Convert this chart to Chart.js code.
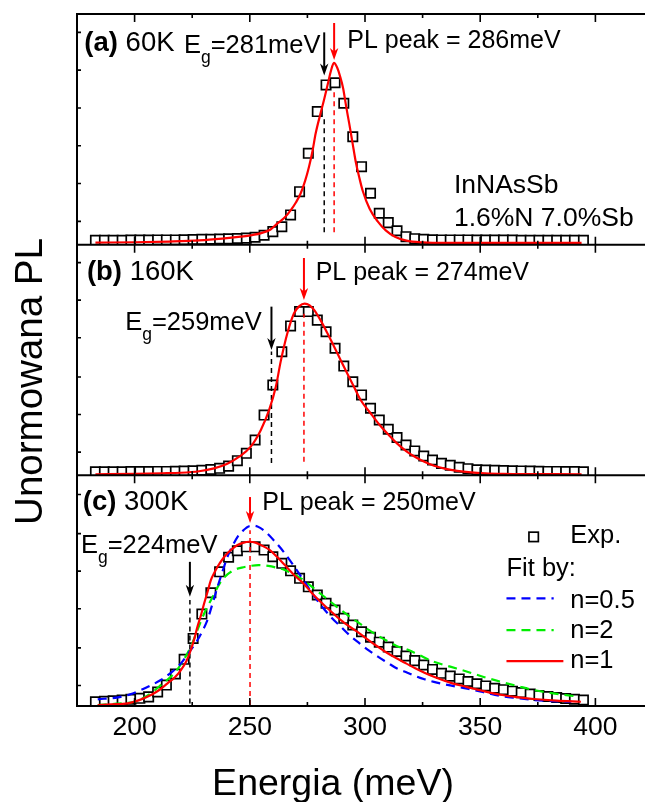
<!DOCTYPE html>
<html>
<head>
<meta charset="utf-8">
<script src="https://cdn.jsdelivr.net/npm/chart.js@4.4.1/dist/chart.umd.min.js"></script>
<style>
  html, body { margin: 0; padding: 0; background: #fff; overflow: hidden; }
  #wrap { width: 645px; height: 802px; overflow: hidden; }
</style>
</head>
<body>
<div id="wrap"><canvas id="chart" width="670" height="802"></canvas></div>
<script>
// Energy grid of the measured points (meV), same for all three temperatures
const energy = [
  183.0, 186.9, 190.7, 194.6, 198.4, 202.3, 206.1, 210.0, 213.8, 217.7,
  221.5, 225.4, 229.2, 233.1, 236.9, 240.8, 244.6, 248.5, 252.3, 256.2,
  260.0, 263.9, 267.7, 271.6, 275.4, 279.3, 283.1, 287.0, 290.8, 294.7,
  298.5, 302.4, 306.2, 310.1, 313.9, 317.8, 321.6, 325.5, 329.3, 333.2,
  337.0, 340.9, 344.7, 348.6, 352.4, 356.3, 360.1, 364.0, 367.8, 371.7,
  375.5, 379.4, 383.2, 387.1, 390.9, 394.8
];

// Normalised PL (squares)
const exp60K = [
  0.015, 0.015, 0.015, 0.015, 0.016, 0.016, 0.016, 0.017, 0.017, 0.017,
  0.018, 0.019, 0.020, 0.021, 0.022, 0.023, 0.025, 0.027, 0.032, 0.043,
  0.063, 0.090, 0.156, 0.285, 0.498, 0.730, 0.878, 0.890, 0.776, 0.590,
  0.424, 0.276, 0.165, 0.113, 0.068, 0.035, 0.024, 0.020, 0.018, 0.017,
  0.017, 0.017, 0.017, 0.016, 0.016, 0.016, 0.016, 0.016, 0.015, 0.015,
  0.015, 0.015, 0.015, 0.015, 0.015, 0.015
];
const exp160K = [
  0.015, 0.015, 0.015, 0.015, 0.016, 0.016, 0.016, 0.017, 0.017, 0.018,
  0.019, 0.021, 0.024, 0.028, 0.035, 0.048, 0.080, 0.123, 0.201, 0.347,
  0.523, 0.718, 0.869, 0.953, 0.953, 0.903, 0.835, 0.738, 0.634, 0.542,
  0.465, 0.387, 0.318, 0.264, 0.215, 0.172, 0.137, 0.107, 0.084, 0.064,
  0.053, 0.041, 0.033, 0.027, 0.025, 0.023, 0.022, 0.021, 0.020, 0.019,
  0.018, 0.017, 0.017, 0.016, 0.016, 0.015
];
const exp300K = [
  0.020, 0.023, 0.026, 0.030, 0.035, 0.041, 0.050, 0.080, 0.122, 0.190,
  0.280, 0.408, 0.557, 0.688, 0.816, 0.905, 0.945, 0.969, 0.969, 0.949,
  0.908, 0.868, 0.822, 0.776, 0.724, 0.674, 0.623, 0.582, 0.531, 0.490,
  0.449, 0.415, 0.385, 0.355, 0.328, 0.300, 0.272, 0.245, 0.218, 0.194,
  0.177, 0.160, 0.144, 0.130, 0.117, 0.103, 0.094, 0.085, 0.076, 0.067,
  0.058, 0.052, 0.046, 0.040, 0.035, 0.031
];

// Fitted curves, [E, PL]
const fit60K = [
  [183, 0.002], [200, 0.004], [215, 0.008], [228, 0.014], [238, 0.024], [246, 0.035],
  [251, 0.044], [255, 0.055], [259, 0.075], [262, 0.109], [265, 0.14], [267.8, 0.183],
  [270, 0.225], [272.1, 0.276], [274, 0.345], [275.7, 0.424], [277.2, 0.51], [278.6, 0.609],
  [280.5, 0.71], [282.2, 0.794], [283.8, 0.88], [285.2, 0.955], [286.5, 1.0], [287.9, 0.975],
  [289.2, 0.925], [290.5, 0.86], [291.8, 0.76], [293.2, 0.66], [294.6, 0.555], [296, 0.45],
  [297.5, 0.365], [299, 0.29], [302, 0.19], [305.5, 0.12], [309, 0.07], [313, 0.035],
  [318, 0.013], [325, 0.003], [335, 0.0], [394, 0.0]
];
const fit160K = [
  [183, 0.0], [200, 0.003], [212, 0.006], [220, 0.009], [228, 0.018], [234.5, 0.035],
  [240, 0.06], [245.4, 0.103], [250.4, 0.162], [254.8, 0.26], [258.4, 0.377], [261.3, 0.513],
  [263.4, 0.66], [266.3, 0.826], [269.2, 0.943], [271.5, 0.985], [273.8, 1.0], [276, 0.99],
  [277.9, 0.963], [280.8, 0.9], [283.7, 0.826], [286.5, 0.75], [289.4, 0.67], [292.3, 0.59],
  [295.2, 0.513], [298.1, 0.435], [302, 0.365], [306, 0.295], [310, 0.235], [314, 0.18],
  [318, 0.135], [322, 0.1], [326, 0.072], [330, 0.05], [335, 0.032], [340, 0.02],
  [346, 0.011], [352, 0.006], [360, 0.003], [394, 0.0]
];
const fit300Kn1 = [
  [184, 0.0], [190, 0.004], [197, 0.01], [202, 0.03], [207.1, 0.061], [211, 0.095],
  [214.3, 0.133], [217.5, 0.17], [220.1, 0.214], [222.5, 0.27], [224.4, 0.337], [226, 0.41],
  [227.3, 0.48], [228.8, 0.55], [230.2, 0.623], [231.7, 0.695], [233.1, 0.765], [234.6, 0.81],
  [236, 0.847], [238, 0.89], [240.3, 0.929], [242.5, 0.958], [244.7, 0.98], [247, 0.993],
  [249.7, 1.0], [252.5, 0.995], [255.5, 0.975], [258.7, 0.949], [262, 0.905], [265.2, 0.857],
  [269, 0.8], [273.3, 0.745], [277, 0.685], [281.4, 0.623], [285.5, 0.57], [289.5, 0.52],
  [293.5, 0.478], [297.6, 0.439], [301.5, 0.398], [305.6, 0.357], [309.5, 0.32], [313.7, 0.286],
  [317.8, 0.255], [321.8, 0.225], [325.8, 0.198], [329.9, 0.173], [337, 0.137], [344.4, 0.11],
  [351.5, 0.085], [358.8, 0.063], [366, 0.048], [373.2, 0.037], [383, 0.027], [393.7, 0.02]
];
const fit300Kn05 = [
  [184, 0.035], [192.7, 0.047], [198, 0.065], [202.8, 0.092], [207, 0.12], [211.4, 0.153],
  [216, 0.2], [220.1, 0.255], [224, 0.33], [227.3, 0.398], [229.5, 0.455], [231.6, 0.52],
  [233.8, 0.62], [236, 0.724], [238.2, 0.82], [240.3, 0.908], [242.5, 0.975], [244.7, 1.03],
  [247.2, 1.07], [249.7, 1.095], [252, 1.098], [254.5, 1.085], [256.8, 1.061], [261, 1.0],
  [265.2, 0.929], [269.2, 0.85], [273.3, 0.765], [277.3, 0.68], [281.4, 0.602], [285.5, 0.535],
  [289.5, 0.48], [293.5, 0.425], [297.6, 0.378], [301.6, 0.335], [305.6, 0.296], [309.7, 0.26],
  [313.7, 0.225], [318.4, 0.198], [321.8, 0.178], [325.8, 0.158], [329.9, 0.142], [337, 0.12],
  [344.4, 0.1], [351.5, 0.078], [358.8, 0.055], [366, 0.042], [373.2, 0.031], [381, 0.024],
  [389.6, 0.02]
];
const fit300Kn2 = [
  [184, 0.0], [192, 0.008], [199.8, 0.02], [204, 0.045], [207.1, 0.072], [212, 0.13],
  [217.2, 0.194], [221, 0.27], [224.4, 0.357], [227.3, 0.46], [230.2, 0.561], [233.8, 0.66],
  [237.4, 0.755], [240.3, 0.8], [243.2, 0.827], [246.5, 0.842], [249.7, 0.851], [253.8, 0.857],
  [258, 0.852], [261.5, 0.842], [265.2, 0.827], [269.2, 0.8], [273.3, 0.765], [277.3, 0.72],
  [281.4, 0.674], [285.5, 0.628], [289.5, 0.582], [293.5, 0.54], [297.6, 0.5], [301.6, 0.46],
  [305.6, 0.425], [309.7, 0.392], [313.7, 0.362], [318.4, 0.34], [323, 0.31], [329.9, 0.265],
  [337, 0.235], [344.4, 0.204], [351.5, 0.172], [358.8, 0.143], [366, 0.117], [373.2, 0.092],
  [381, 0.073], [390.6, 0.055]
];

// Axis ticks
const xMajorTicks = [200, 250, 300, 350, 400];
const xMinorTicks = [225, 275, 325, 375];
const yTicksA = [0.12, 0.33, 0.54, 0.75, 0.96, 1.17];
const yTicksB = [0.13, 0.35, 0.57, 0.80, 1.02, 1.24];
const yTicksC = [0.12, 0.35, 0.59, 0.82, 1.05, 1.29];

// Panels (top to bottom)
const panelIds = ['yA', 'yB', 'yC'];
const panelTags = ['(a)', '(b)', '(c)'];
const panelTemps = ['60K', '160K', '300K'];
const panelRanges = [[-0.0094, 1.272], [-0.006, 1.345], [-0.006, 1.407]];

// Band gap / PL peak markers: energy, dashed line [bottom, top], arrow [tail, tip]
const egEnergy = [282.3, 259.4, 224.0];
const egLabel = ['281', '259', '224'];
const egDash = [[0.06, 0.71], [0.066, 0.72], [0.01, 0.643]];
const egArrow = [[1.17, 0.93], [0.982, 0.728], [0.877, 0.663]];
const peakEnergy = [286.6, 273.5, 250.1];
const peakLabel = ['286', '274', '250'];
const peakDash = [[0.06, 0.86], [0.074, 0.94], [0.0, 1.07]];
const peakArrow = [[1.222, 1.017], [1.267, 1.021], [1.274, 1.115]];

// Text anchors [E, PL] (baseline, left)
const tagPos = [[178.2, 1.067], [179.3, 1.138], [177.5, 1.194]];
const egTextPos = [[221.4, 1.056], [195.9, 0.845], [176.7, 0.933]];
const peakTextPos = [[292.3, 1.083], [278.6, 1.138], [255.4, 1.194]];

// Frame of the original figure: 175 meV at x=77, 425 meV at x=653 (cut off), panels y=14..706
const frameBox = {left: 77, right: 653, top: 14, bottom: 706};

const FONT = '"Liberation Sans", Arial, Helvetica, sans-serif';
const font = (size, bold) => (bold ? 'bold ' : '') + size + 'px ' + FONT;

const pts = (xs, ys) => xs.map((e, i) => ({x: e, y: ys[i]}));
const pairs = arr => arr.map(p => ({x: p[0], y: p[1]}));

function fitSet(data, axis, color, dash) {
  return {
    data: pairs(data), yAxisID: axis, showLine: true, borderColor: color,
    borderWidth: 2.2, borderDash: dash || [], pointRadius: 0,
    cubicInterpolationMode: 'monotone', fill: false
  };
}
function vline(e, range, axis, color) {
  return {
    data: [{x: e, y: range[0]}, {x: e, y: range[1]}], yAxisID: axis, showLine: true,
    borderColor: color, borderWidth: 1.5, borderDash: [5, 4], pointRadius: 0, fill: false
  };
}
function expSet(values, axis) {
  return {
    data: pts(energy, values), yAxisID: axis, showLine: false, pointStyle: 'rect',
    pointRadius: 6.6, pointBorderWidth: 1.7, pointBorderColor: '#000',
    pointBackgroundColor: '#fff'
  };
}

const datasets = [
  fitSet(fit60K, 'yA', '#ff0000'),
  fitSet(fit160K, 'yB', '#ff0000'),
  fitSet(fit300Kn1, 'yC', '#ff0000'),
  fitSet(fit300Kn05, 'yC', '#0000ff', [9, 6]),
  fitSet(fit300Kn2, 'yC', '#00ee00', [9, 6])
];
panelIds.forEach((id, i) => {
  datasets.push(vline(egEnergy[i], egDash[i], id, '#000'));
  datasets.push(vline(peakEnergy[i], peakDash[i], id, '#ff0000'));
});
datasets.push(expSet(exp60K, 'yA'), expSet(exp160K, 'yB'), expSet(exp300K, 'yC'));

function drawParts(ctx, x, y, parts) {
  let cx = x;
  parts.forEach(p => {
    ctx.font = font(p.size || 25, p.bold);
    ctx.fillText(p.t, cx, y + (p.dy || 0));
    cx += ctx.measureText(p.t).width;
  });
}

function drawArrow(ctx, x, y0, y1, color) {
  ctx.strokeStyle = color;
  ctx.fillStyle = color;
  ctx.lineWidth = 2;
  ctx.beginPath();
  ctx.moveTo(x, y0);
  ctx.lineTo(x, y1 - 6);
  ctx.stroke();
  ctx.beginPath();
  ctx.moveTo(x, y1);
  ctx.lineTo(x - 4.2, y1 - 12);
  ctx.lineTo(x, y1 - 8.5);
  ctx.lineTo(x + 4.2, y1 - 12);
  ctx.closePath();
  ctx.fill();
}

const framePlugin = {
  id: 'frame',
  afterDatasetsDraw(chart) {
    const ctx = chart.ctx;
    const xs = chart.scales.x;
    const yTicks = [yTicksA, yTicksB, yTicksC];
    ctx.save();
    ctx.strokeStyle = '#000';
    ctx.lineWidth = 2;
    ctx.lineCap = 'butt';

    // frame: left spine and panel separators (the right side is cut off)
    ctx.beginPath();
    ctx.moveTo(xs.left, chart.chartArea.top - 1);
    ctx.lineTo(xs.left, chart.chartArea.bottom + 1);
    panelIds.forEach(id => {
      const s = chart.scales[id];
      ctx.moveTo(xs.left, s.top);
      ctx.lineTo(xs.right, s.top);
      ctx.moveTo(xs.left, s.bottom);
      ctx.lineTo(xs.right, s.bottom);
    });
    ctx.stroke();

    // inward ticks on each panel edge
    ctx.lineWidth = 1.6;
    ctx.beginPath();
    panelIds.forEach((id, i) => {
      const s = chart.scales[id];
      xMajorTicks.forEach(v => {
        const px = xs.getPixelForValue(v);
        ctx.moveTo(px, s.top); ctx.lineTo(px, s.top + 8);
        ctx.moveTo(px, s.bottom); ctx.lineTo(px, s.bottom - 8);
      });
      xMinorTicks.forEach(v => {
        const px = xs.getPixelForValue(v);
        ctx.moveTo(px, s.top); ctx.lineTo(px, s.top + 4);
        ctx.moveTo(px, s.bottom); ctx.lineTo(px, s.bottom - 4);
      });
      yTicks[i].forEach(v => {
        const py = s.getPixelForValue(v);
        ctx.moveTo(xs.left, py); ctx.lineTo(xs.left + 4, py);
      });
    });
    ctx.stroke();

    // annotations
    ctx.fillStyle = '#000';
    ctx.textBaseline = 'alphabetic';
    ctx.textAlign = 'left';
    panelIds.forEach((id, i) => {
      const s = chart.scales[id];
      const X = v => xs.getPixelForValue(v);
      const Y = v => s.getPixelForValue(v);
      ctx.fillStyle = '#000';
      drawParts(ctx, X(tagPos[i][0]), Y(tagPos[i][1]), [
        {t: panelTags[i], bold: true, size: 27.5}, {t: ' ' + panelTemps[i], size: 27.5}
      ]);
      drawParts(ctx, X(egTextPos[i][0]), Y(egTextPos[i][1]), [
        {t: 'E', size: 25.5}, {t: 'g', size: 17.5, dy: 10}, {t: '=' + egLabel[i] + 'meV', size: 25.5}
      ]);
      drawParts(ctx, X(peakTextPos[i][0]), Y(peakTextPos[i][1]), [
        {t: 'PL peak = ' + peakLabel[i] + 'meV'}
      ]);
      drawArrow(ctx, X(egEnergy[i]), Y(egArrow[i][0]), Y(egArrow[i][1]), '#000');
      drawArrow(ctx, X(peakEnergy[i]), Y(peakArrow[i][0]), Y(peakArrow[i][1]), '#ff0000');
    });

    // sample label in panel (a)
    const sA = chart.scales.yA;
    ctx.fillStyle = '#000';
    ctx.font = font(26.5, false);
    ctx.fillText('InNAsSb', xs.getPixelForValue(338.6), sA.getPixelForValue(0.276));
    ctx.fillText('1.6%N 7.0%Sb', xs.getPixelForValue(338.6), sA.getPixelForValue(0.094));

    // legend in panel (c)
    const sC = chart.scales.yC;
    const lx0 = xs.getPixelForValue(361.4);
    const lx1 = xs.getPixelForValue(381.9);
    const lx2 = xs.getPixelForValue(386.1);
    const ltx = xs.getPixelForValue(389.1);
    const sq = xs.getPixelForValue(373.2);
    const sqy = sC.getPixelForValue(1.03);
    ctx.lineWidth = 1.7;
    ctx.strokeStyle = '#000';
    ctx.fillStyle = '#fff';
    ctx.fillRect(sq - 4.7, sqy - 4.7, 9.4, 9.4);
    ctx.strokeRect(sq - 4.7, sqy - 4.7, 9.4, 9.4);
    ctx.fillStyle = '#000';
    ctx.font = font(25.5, false);
    ctx.fillText('Exp.', ltx, sC.getPixelForValue(0.992));
    ctx.fillText('Fit by:', lx0, sC.getPixelForValue(0.79));
    const rows = [
      {label: 'n=0.5', color: '#0000ff', dash: [9, 6], end: lx1, base: 0.594, line: 0.653},
      {label: 'n=2', color: '#00ee00', dash: [9, 6], end: lx1, base: 0.41, line: 0.459},
      {label: 'n=1', color: '#ff0000', dash: [], end: lx2, base: 0.227, line: 0.269}
    ];
    rows.forEach(r => {
      const ly = sC.getPixelForValue(r.line);
      ctx.strokeStyle = r.color;
      ctx.lineWidth = 2.2;
      ctx.setLineDash(r.dash);
      ctx.beginPath();
      ctx.moveTo(lx0, ly);
      ctx.lineTo(r.end, ly);
      ctx.stroke();
      ctx.setLineDash([]);
      ctx.fillStyle = '#000';
      ctx.fillText(r.label, ltx, sC.getPixelForValue(r.base));
    });

    // axis titles
    ctx.fillStyle = '#000';
    ctx.textAlign = 'center';
    ctx.font = font(37.5, false);
    ctx.fillText('Energia (meV)', 333, 795);
    ctx.save();
    ctx.translate(42, 381.5);
    ctx.rotate(-Math.PI / 2);
    ctx.font = font(38.5, false);
    ctx.fillText('Unormowana PL', 0, 0);
    ctx.restore();
    ctx.restore();
  }
};

function yScale(range) {
  return {
    type: 'linear', position: 'left', stack: 'panels', stackWeight: 1,
    min: range[0], max: range[1],
    ticks: {display: false}, grid: {display: false, drawTicks: false},
    border: {display: false}
  };
}

const chart = new Chart(document.getElementById('chart'), {
  type: 'scatter',
  data: {datasets: datasets},
  options: {
    responsive: false,
    animation: false,
    events: [],
    layout: {padding: {left: 77, top: 14, right: 10, bottom: 58}},
    plugins: {legend: {display: false}, tooltip: {enabled: false}},
    scales: {
      x: {
        type: 'linear', position: 'bottom', min: 175, max: 425,
        afterBuildTicks: axis => { axis.ticks = xMajorTicks.map(v => ({value: v})); },
        ticks: {color: '#000', padding: 6, font: {family: FONT, size: 26.5}},
        grid: {display: false, drawTicks: false},
        border: {display: false}
      },
      // stacked bottom to top
      yC: yScale(panelRanges[2]),
      yB: yScale(panelRanges[1]),
      yA: yScale(panelRanges[0])
    }
  },
  plugins: [framePlugin]
});

// nudge the padding so the plot frame lands where it sits in the original figure
const area = Object.assign({}, chart.chartArea);
const pad = chart.options.layout.padding;
pad.left += frameBox.left - area.left;
pad.right += area.right - frameBox.right;
pad.top += frameBox.top - area.top;
pad.bottom += area.bottom - frameBox.bottom;
chart.update();
</script>
</body>
</html>
